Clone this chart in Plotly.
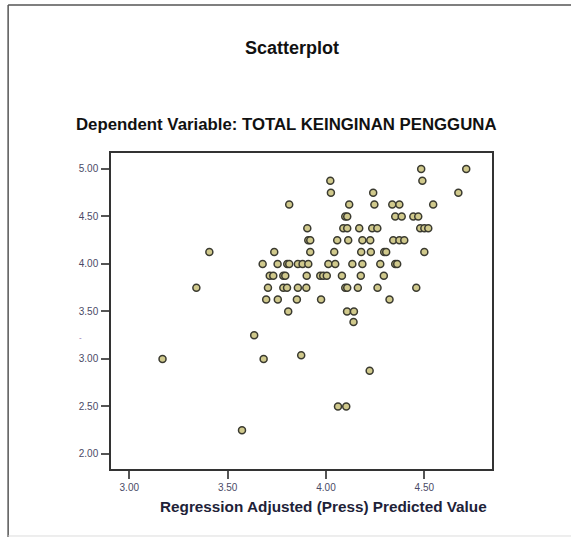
import plotly.graph_objects as go

# Data (x = Regression Adjusted (Press) Predicted Value, y = TOTAL KEINGINAN PENGGUNA)
x_pred = [
    4.484, 4.713,
    4.022, 4.490,
    4.025, 4.240, 4.673,
    3.813, 4.118, 4.246, 4.337, 4.373, 4.545,
    4.098, 4.108, 4.352, 4.385, 4.444, 4.469,
    3.905, 4.088, 4.108, 4.169, 4.235, 4.261, 4.479, 4.500, 4.520,
    3.910, 3.920, 4.057, 4.113, 4.185, 4.225, 4.342, 4.373, 4.398,
    3.407, 3.737, 3.920, 4.042, 4.179, 4.228, 4.296, 4.306, 4.500,
    3.678, 3.754, 3.803, 3.813, 3.857, 3.881, 3.910, 4.012, 4.047, 4.134, 4.185, 4.276, 4.352, 4.362,
    3.714, 3.732, 3.783, 3.793, 3.902, 3.971, 3.986, 4.004, 4.081, 4.177, 4.294,
    3.341, 3.705, 3.783, 3.802, 3.857, 3.900, 4.098, 4.108, 4.162, 4.262, 4.459,
    3.696, 3.755, 3.852, 3.975, 4.323,
    3.808, 4.107, 4.142,
    4.140,
    3.635,
    3.874,
    3.169, 3.683,
    4.222,
    4.061, 4.103,
    3.573,
]
y_dep = [
    5.000, 5.000,
    4.875, 4.875,
    4.750, 4.750, 4.750,
    4.625, 4.625, 4.625, 4.625, 4.625, 4.625,
    4.500, 4.500, 4.500, 4.500, 4.500, 4.500,
    4.375, 4.375, 4.375, 4.375, 4.375, 4.375, 4.375, 4.375, 4.375,
    4.250, 4.250, 4.250, 4.250, 4.250, 4.250, 4.250, 4.250, 4.250,
    4.125, 4.125, 4.125, 4.125, 4.125, 4.125, 4.125, 4.125, 4.125,
    4.000, 4.000, 4.000, 4.000, 4.000, 4.000, 4.000, 4.000, 4.000, 4.000, 4.000, 4.000, 4.000, 4.000,
    3.875, 3.875, 3.875, 3.875, 3.875, 3.875, 3.875, 3.875, 3.875, 3.875, 3.875,
    3.750, 3.750, 3.750, 3.750, 3.750, 3.750, 3.750, 3.750, 3.750, 3.750, 3.750,
    3.625, 3.625, 3.625, 3.625, 3.625,
    3.500, 3.500, 3.500,
    3.390,
    3.250,
    3.040,
    3.000, 3.000,
    2.875,
    2.500, 2.500,
    2.250,
]

x_ticks = [3.0, 3.5, 4.0, 4.5]
x_tick_labels = ["3.00", "3.50", "4.00", "4.50"]
y_ticks = [2.0, 2.5, 3.0, 3.5, 4.0, 4.5, 5.0]
y_tick_labels = ["2.00", "2.50", "3.00", "3.50", "4.00", "4.50", "5.00"]

main_title = "Scatterplot"
sub_title = "Dependent Variable: TOTAL KEINGINAN PENGGUNA"
x_title = "Regression Adjusted (Press) Predicted Value"

FONT = "Liberation Sans, Arial, sans-serif"

fig = go.Figure()
fig.add_trace(go.Scatter(
    x=x_pred, y=y_dep, mode="markers",
    marker=dict(size=7, color="#d0c98c", line=dict(color="#3a3a30", width=1.5)),
    hoverinfo="x+y", showlegend=False,
))

axis_common = dict(
    showline=True, linecolor="#333333", linewidth=1.5, mirror=True,
    ticks="outside", ticklen=8, tickwidth=1.5, tickcolor="#555555",
    showgrid=False, zeroline=False,
    tickfont=dict(family=FONT, size=10, color="#4a4a66"),
)

fig.update_layout(
    width=571, height=537,
    margin=dict(l=111, r=79, t=153, b=68),
    paper_bgcolor="white", plot_bgcolor="white",
    xaxis=dict(range=[2.907, 4.844], tickvals=x_ticks, ticktext=x_tick_labels, **axis_common),
    yaxis=dict(range=[1.842, 5.168], tickvals=y_ticks, ticktext=y_tick_labels, ticklabelstandoff=1, **axis_common),
    annotations=[
        dict(text="<b>" + main_title + "</b>", xref="paper", yref="paper", x=0.475, y=1.332,
             xanchor="center", yanchor="middle", showarrow=False,
             font=dict(family=FONT, size=18, color="#111111")),
        dict(text="<b>" + sub_title + "</b>", xref="paper", yref="paper", x=0.461, y=1.089,
             xanchor="center", yanchor="middle", showarrow=False,
             font=dict(family=FONT, size=16.8, color="#111111")),
        dict(text="<b>" + x_title + "</b>", xref="paper", yref="paper", x=0.559, y=-0.120,
             xanchor="center", yanchor="middle", showarrow=False,
             font=dict(family=FONT, size=15.3, color="#1e2238")),
        dict(text="-", xref="paper", yref="paper", x=-0.081, y=0.415,
             xanchor="center", yanchor="middle", showarrow=False,
             font=dict(family=FONT, size=8, color="#8866aa")),
    ],
    shapes=[
        dict(type="line", xref="paper", yref="paper", x0=-0.270, x1=1.3, y0=1.468, y1=1.468,
             line=dict(color="#555555", width=1.5)),
        dict(type="line", xref="paper", yref="paper", x0=-0.270, x1=-0.270, y0=1.468, y1=-0.3,
             line=dict(color="#555555", width=1.5)),
        dict(type="line", xref="paper", yref="paper", x0=-0.270, x1=1.3, y0=-0.212, y1=-0.212,
             line=dict(color="#dddddd", width=1)),
    ],
)

fig.write_html(
    "out.html",
    config={"displayModeBar": False},
    post_script="document.body.style.margin='0';document.body.style.overflow='hidden';",
)
